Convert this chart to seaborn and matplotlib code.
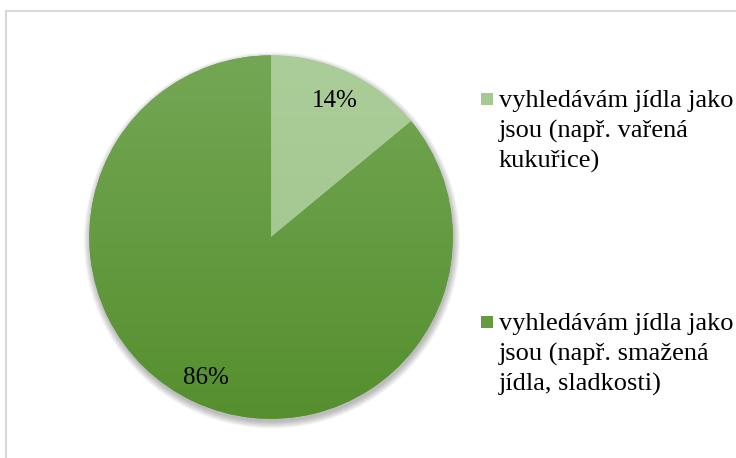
import numpy as np
import matplotlib
matplotlib.use("Agg")
import matplotlib.pyplot as plt
import seaborn as sns
from matplotlib.patches import Rectangle, Circle
from matplotlib.colors import LinearSegmentedColormap

# data
labels = ["vyhledávám jídla jako\njsou (např. vařená\nkukuřice)",
          "vyhledávám jídla jako\njsou (např. smažená\njídla, sladkosti)"]
shares = [14, 86]
colors = ["#a6c994", "#639c3f"]
grad_colors = [("#abcd99", "#9fc48b"), ("#74a755", "#558f2e")]

sns.set_theme(style="white")
plt.rcParams["font.family"] = ["Liberation Serif", "DejaVu Serif"]

fig = plt.figure(figsize=(7.36, 4.58), dpi=100)
fig.patch.set_facecolor("white")

# outer chart frame (runs off the right and bottom)
fig.patches.append(Rectangle((6 / 736, -0.05), 1.2, 0.976 + 0.05, transform=fig.transFigure,
                             fill=False, edgecolor="#d9d9d9", linewidth=1.5, zorder=0))

ax = fig.add_axes([0.0965, 0.0458, 0.5435, 0.873])
ax.axis("off")

# soft shadow under the pie
for k in range(8):
    ax.add_patch(Circle((0.005, -0.018), 1.0 + k * 0.005, facecolor="black",
                        edgecolor="none", alpha=0.035, zorder=0))

wedges, texts, autotexts = ax.pie(
    shares, colors=colors, startangle=90, counterclock=False,
    autopct=lambda p: f"{p:.0f}%", pctdistance=0.83, radius=1.0,
    wedgeprops=dict(linewidth=0), textprops=dict(fontsize=18, color="black"))

# vertical gradient fill clipped to each wedge
for w, (top, bottom) in zip(wedges, grad_colors):
    cmap = LinearSegmentedColormap.from_list("g", [bottom, top])
    grad = np.linspace(0, 1, 256).reshape(-1, 1)
    im = ax.imshow(grad, cmap=cmap, extent=(-1, 1, -1, 1), origin="lower",
                   aspect="auto", zorder=w.get_zorder() + 0.1)
    im.set_clip_path(w)

ax.set_xlim(-1.1, 1.1)
ax.set_ylim(-1.1, 1.1)
ax.set_aspect("equal")

for t in autotexts:
    t.set_zorder(5)
# Excel puts the big-slice label lower left
autotexts[1].set_position((-0.357, -0.775))

# legend drawn as square markers + serif text
legend_tops = [90, 313]
for lab, c, y in zip(labels, colors, legend_tops):
    fig.patches.append(Rectangle((481 / 736, 1 - (y + 15) / 458), 12 / 736, 12 / 458,
                                 transform=fig.transFigure, facecolor=c, edgecolor="none"))
    fig.text(499 / 736, 1 - y / 458, lab, fontsize=19, va="top", ha="left",
             linespacing=1.42, color="black")

fig.savefig("out.png", dpi=100)
